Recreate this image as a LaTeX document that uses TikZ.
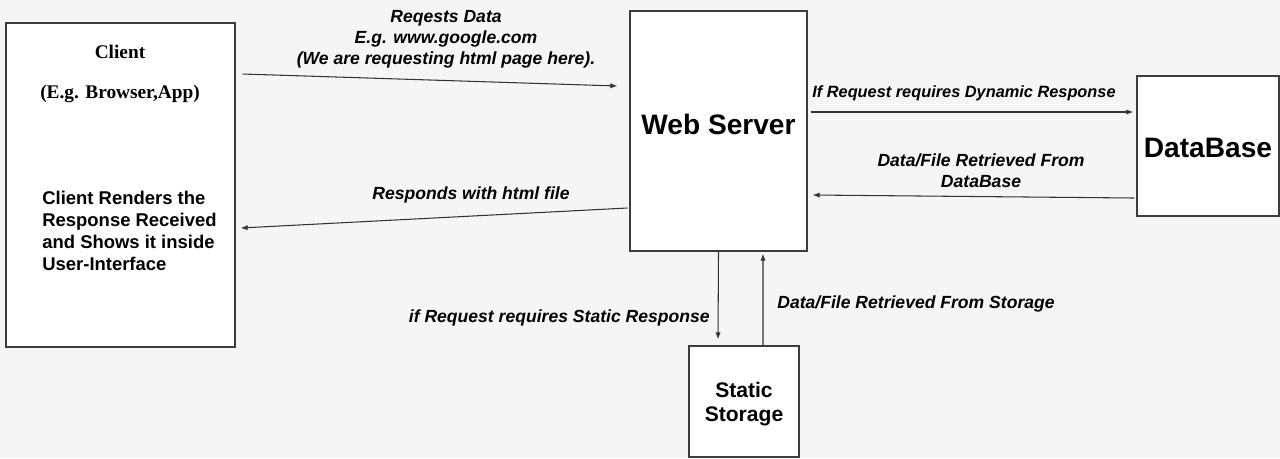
\documentclass[tikz,border=0pt]{standalone}
\usepackage{fontspec}
\setmainfont{Liberation Serif}
\setsansfont{Liberation Sans}
\usetikzlibrary{
	arrows.meta,
	calc,
	positioning
}
\definecolor{PageGray}{RGB}{245,245,245}
\definecolor{EdgeGray}{RGB}{60,60,60}

\tikzset{
	box/.style={draw=EdgeGray, fill=white, line width=0.7pt, inner sep=0pt},
	flow/.style={-{Latex[length=4pt,width=3pt]}, draw=black!80, line width=0.6pt},
	lbl/.style={font=\sffamily\bfseries\itshape\fontsize{10}{12}\selectfont, align=center, inner sep=0pt},
	big/.style={font=\sffamily\bfseries\fontsize{16}{19}\selectfont, inner sep=0pt, anchor=base}
}

\begin{document}
\begin{tikzpicture}[x=0.02cm, y=-0.02cm]
		\useasboundingbox[fill=PageGray] (0,0) rectangle (1280,458);
		
		% 四个方框
		\node[box, minimum width=4.58cm, minimum height=6.48cm] (client) at (120.5,185) {};
		\node[box, minimum width=3.54cm, minimum height=4.8cm] (web) at (718.5,131) {};
		\node[box, minimum width=2.84cm, minimum height=2.8cm] (db) at (1208,146) {};
		\node[box, minimum width=2.2cm, minimum height=2.22cm] (store) at (744,401.5) {};
		
		% 方框里的文字
		\node[font=\rmfamily\bfseries\fontsize{11}{13}\selectfont, inner sep=0pt] (clientname) at (120,52) {Client};
		\node[font=\rmfamily\bfseries\fontsize{11}{13}\selectfont, inner sep=0pt] (clientkind) at (120,94) {(E.g. Browser,App)};
		\node[font=\sffamily\bfseries\fontsize{10.5}{12.4}\selectfont, align=left, inner sep=0pt, anchor=west] (clientnote) at (42,231)
			{Client Renders the\\Response Received\\and Shows it inside\\User-Interface};
		\node[big] (webname) at (718.5,134) {Web Server};
		\node[big] (dbname) at (1208,157) {DataBase};
		\node[font=\sffamily\bfseries\fontsize{12}{13.7}\selectfont, align=center, inner sep=0pt] (storename) at (744,404) {Static\\Storage};
		
		% 请求与响应
		\draw[flow] ($(client.east)+(7,-111)$) -- ($(web.west)+(-12,-45)$);
		\draw[flow] ($(web.west)+(-2,77)$) -- ($(client.east)+(5,43)$);
		\node[lbl] (asktext) at (446,39.5) {Reqests Data\\E.g. www.google.com\\(We are requesting html page here).};
		\node[lbl, anchor=base] (replytext) at (471,199) {Responds with html file};
		
		% 数据库
		\draw[flow] ($(web.east)+(3,-19)$) -- ($(db.west)+(-3,-34)$);
		\draw[flow] ($(db.west)+(-2,52)$) -- ($(web.east)+(5,64)$);
		\node[lbl, anchor=base, font=\sffamily\bfseries\itshape\fontsize{9.3}{12}\selectfont] (dyntext) at (964,97) {If Request requires Dynamic Response};
		\node[lbl] (dbtext) at (981,171) {Data/File Retrieved From\\DataBase};
		
		% 静态存储
		\draw[flow] (web.south) -- ($(store.north)+(-26,-6)$);
		\draw[flow] ($(store.north)+(19,0)$) -- ($(web.south)+(44.5,2)$);
		\node[lbl, anchor=base east] (stattext) at (710,322) {if Request requires Static Response};
		\node[lbl, anchor=base west] (storetext) at (777,308) {Data/File Retrieved From Storage};
	\end{tikzpicture}
\end{document}
